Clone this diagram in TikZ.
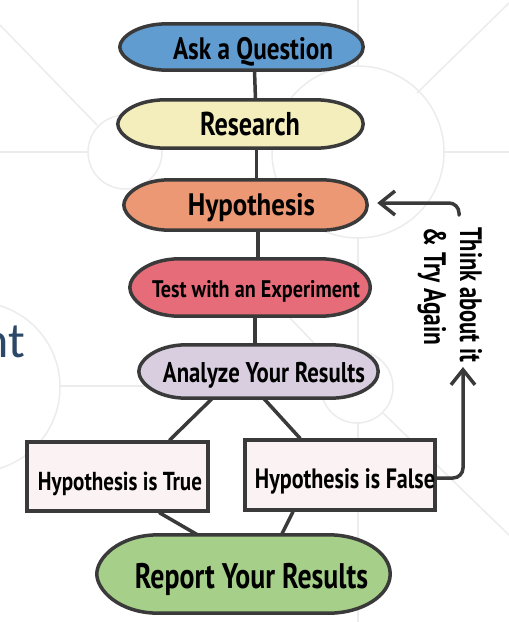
\documentclass[tikz,border=0pt]{standalone}
\usepackage{fontspec}
\usepackage{graphicx}
\newfontfamily\hand{PT Sans}
\newfontfamily\slidefont{Carlito}
\usetikzlibrary{arrows.meta,calc}
\definecolor{lineC}{RGB}{58,58,58}
\definecolor{bgC}{RGB}{236,236,238}
\definecolor{askC}{RGB}{96,156,208}
\definecolor{resC}{RGB}{243,238,188}
\definecolor{hypC}{RGB}{236,152,116}
\definecolor{testC}{RGB}{230,108,122}
\definecolor{anaC}{RGB}{216,206,224}
\definecolor{boxC}{RGB}{251,243,243}
\definecolor{repC}{RGB}{166,208,138}
\definecolor{ntC}{RGB}{44,72,104}
\pgfdeclarelayer{background}
\pgfsetlayers{background,main}
\newcommand\fitw[2]{\resizebox{#1}{\height}{#2}}
\newcommand\lens[3]{%
  \filldraw[outline, fill=#3]
  (#1.west) .. controls ($(#1.west)!0.4!(#1.north west)$) and ([xshift=0.35*#2]#1.north west) .. ([xshift=#2]#1.north west)
  -- ([xshift=-#2]#1.north east)
  .. controls ([xshift=-0.45*#2]#1.north east) and ($(#1.east)!0.55!(#1.north east)$) .. (#1.east)
  .. controls ($(#1.east)!0.55!(#1.south east)$) and ([xshift=-0.45*#2]#1.south east) .. ([xshift=-#2]#1.south east)
  -- ([xshift=#2]#1.south west)
  .. controls ([xshift=0.35*#2]#1.south west) and ($(#1.west)!0.4!(#1.south west)$) .. cycle;}
\begin{document}
\begin{tikzpicture}[x=1pt,y=-1pt,
  outline/.style={draw=lineC, line width=3.5pt, line join=round},
  shapebox/.style={draw=none, inner sep=0pt},
  rectbox/.style={draw=lineC, line width=3.5pt, fill=boxC, inner sep=0pt},
  link/.style={draw=lineC, line width=3.5pt, line cap=round},
  loopback/.style={draw=lineC, line width=3.5pt, line cap=round, rounded corners=10pt,
    -{Straight Barb[length=15pt,width=24pt]}},
  bgline/.style={draw=bgC, line width=1.5pt},
  lbl/.style={inner sep=0pt, anchor=base, text=black}
]
\useasboundingbox (0,0) rectangle (509,622);
% shape placeholders
\node[shapebox, minimum width=243pt, minimum height=46pt] (ask)  at (241.5,47) {};
\node[shapebox, minimum width=245pt, minimum height=48pt] (res)  at (240.5,124) {};
\node[shapebox, minimum width=243pt, minimum height=50pt] (hyp)  at (245.5,205) {};
\node[shapebox, minimum width=240pt, minimum height=57pt] (test) at (250,287.5) {};
\node[shapebox, minimum width=239pt, minimum height=53pt] (ana)  at (258.5,371.5) {};
\node[shapebox, minimum width=293pt, minimum height=78pt] (rep)  at (243.5,574) {};
\node[rectbox, minimum width=181pt, minimum height=69pt] (true)  at (117.5,476.5) {};
\node[rectbox, minimum width=190pt, minimum height=70pt] (false) at (340,475) {};
% texts
\node[lbl, font=\hand\bfseries\fontsize{31}{31}\selectfont] (askT) at ($(ask)+(11.5,12)$) {\fitw{160pt}{Ask a Question}};
\node[lbl, font=\hand\bfseries\fontsize{33}{33}\selectfont] (resT) at ($(res)+(9.5,11)$) {\fitw{100pt}{Research}};
\node[lbl, font=\hand\bfseries\fontsize{31}{31}\selectfont] (hypT) at ($(hyp)+(6,10)$) {\fitw{127pt}{Hypothesis}};
\node[lbl, font=\hand\bfseries\fontsize{24}{24}\selectfont] (testT) at ($(test)+(6,9.5)$) {\fitw{208pt}{Test with an Experiment}};
\node[lbl, font=\hand\bfseries\fontsize{28.5}{28.5}\selectfont] (anaT) at ($(ana)+(5.5,10.5)$) {\fitw{202pt}{Analyze Your Results}};
\node[lbl, font=\hand\bfseries\fontsize{26}{26}\selectfont] (trueT) at ($(true)+(2.5,13.5)$) {\fitw{164pt}{Hypothesis is True}};
\node[lbl, font=\hand\bfseries\fontsize{28}{28}\selectfont] (falseT) at ($(false)+(5,13)$) {\fitw{180pt}{Hypothesis is False}};
\node[lbl, font=\hand\bfseries\fontsize{35.5}{35.5}\selectfont] (repT) at ($(rep)+(8,14)$) {\fitw{233pt}{Report Your Results}};
\node[inner sep=0pt, anchor=base west, rotate=-90, font=\hand\bfseries\fontsize{31}{31}\selectfont] (think1) at (460,227) {\fitw{135pt}{Think about it}};
\node[inner sep=0pt, anchor=base west, rotate=-90, font=\hand\bfseries\fontsize{31}{31}\selectfont] (think2) at (424,227) {\fitw{118pt}{\& Try Again}};
\node[inner sep=0pt, anchor=base east, text=ntC, font=\slidefont\fontsize{50}{50}\selectfont] (nt) at (25,357) {nt};
\coordinate (upTip) at (463,367);
\coordinate (loopStart) at (459,215);
\begin{pgfonlayer}{background}
  \fill[white] (0,0) rectangle (509,622);
  % faint slide background
  \draw[bgline] (0,25) -- (97,125);
  \draw[bgline] (125,152) circle[radius=37];
  \draw[bgline] (0,152) -- (88,152);
  \draw[bgline] (358,152) circle[radius=86];
  \draw[bgline] (358,0) -- (358,66);
  \draw[bgline] (444,152) -- (509,152);
  \draw[bgline] (417,93) -- (509,3);
  \draw[bgline] (-25,387) circle[radius=85];
  \draw[bgline] (60,386) -- (321,386);
  \draw[bgline] (357,387) circle[radius=36];
  \draw[bgline] (358,238) -- (358,351);
  \draw[bgline] (358,423) -- (358,622);
  \draw[bgline] (270,297) -- (331,361);
  \draw[bgline] (383,413) -- (509,535);
  % connectors
  \draw[link] ($(ask.south)+(13,0)$) -- ($(res.north)+(15,0)$);
  \draw[link] ($(res.south)+(16,0)$) -- ($(hyp.north)+(11,0)$);
  \draw[link] ($(hyp.south)+(12.5,0)$) -- ($(test.north)+(8,0)$);
  \draw[link] ($(test.south)+(5,0)$) -- ($(ana.north)+(-3.5,0)$);
  \draw[link] ($(ana.south)+(-46,0)$) -- ($(true.north)+(52,0)$);
  \draw[link] ($(ana.south)+(5,0)$) -- ($(false.north)+(-40,0)$);
  \draw[link] ($(true.south)+(42,0)$) -- ($(rep.north)+(-46,0)$);
  \draw[link] ($(false.south)+(-47,0)$) -- ($(rep.north)+(38,0)$);
  % shapes
  \lens{ask}{48pt}{askC}
  \lens{res}{48pt}{resC}
  \lens{hyp}{46pt}{hypC}
  \lens{test}{50pt}{testC}
  \lens{ana}{48pt}{anaC}
  \lens{rep}{62pt}{repC}
  % loop-back arrows
  \draw[loopback] ($(false.east)+(0,3)$) -| (upTip);
  \draw[loopback] (loopStart) |- ($(hyp.east)+(10,-2)$);
\end{pgfonlayer}
\end{tikzpicture}
\end{document}
